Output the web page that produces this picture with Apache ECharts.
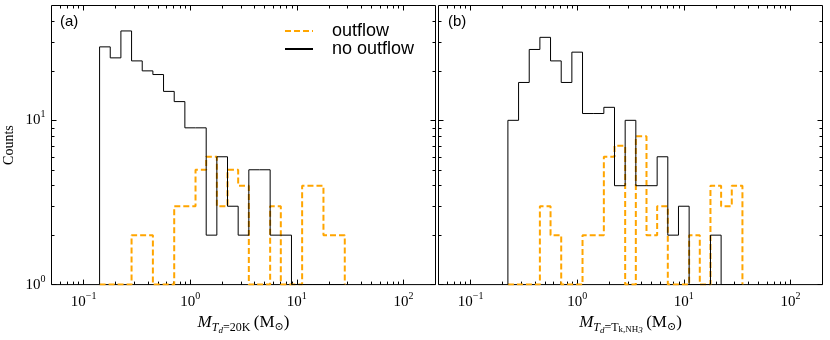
<!DOCTYPE html>
<html>
<head>
<meta charset="utf-8">
<script src="https://cdn.jsdelivr.net/npm/echarts@6/dist/echarts.min.js"></script>
<style>
html, body { margin: 0; padding: 0; background: #fff; }
#chart { width: 830px; height: 340px; }
</style>
</head>
<body>
<div id="chart"></div>
<script>
// bin edges are log10(M / Msun)
var edgesA = [-0.85, -0.75, -0.65, -0.55, -0.45, -0.35, -0.25, -0.15, -0.05, 0.05, 0.15, 0.25,
  0.35, 0.45, 0.55, 0.65, 0.75, 0.85, 0.95, 1.05, 1.15, 1.25, 1.35, 1.45];
var outflowA = [0, 0, 0, 2, 2, 0, 0, 3, 3, 5, 6, 3, 5, 4, 0, 0, 3, 0, 0, 4, 4, 2, 2];
var noOutflowA = [28, 24, 35, 23, 20, 19, 15, 13, 9, 9, 2, 6, 3, 2, 5, 5, 2, 2, 0, 0, 0, 0, 0];

var edgesB = [-0.65, -0.55, -0.45, -0.35, -0.25, -0.15, -0.05, 0.05, 0.15, 0.25, 0.35, 0.45,
  0.55, 0.65, 0.75, 0.85, 0.95, 1.05, 1.15, 1.25, 1.35, 1.45, 1.55];
var outflowB = [0, 0, 0, 3, 2, 0, 0, 2, 2, 6, 7, 0, 8, 2, 3, 0, 0, 2, 0, 4, 3, 4];
var noOutflowB = [10, 17, 27, 32, 23, 17, 26, 11, 11, 12, 4, 10, 4, 4, 6, 2, 3, 0, 0, 2, 0, 0];

var xMajor = [0.1, 1, 10, 100];
var xMinor = [0.06, 0.07, 0.08, 0.09, 0.2, 0.3, 0.4, 0.5, 0.6, 0.7, 0.8, 0.9,
  2, 3, 4, 5, 6, 7, 8, 9, 20, 30, 40, 50, 60, 70, 80, 90];
var yMajor = [1, 10];
var yMinor = [2, 3, 4, 5, 6, 7, 8, 9, 20, 30, 40];

var X_MIN = 0.05, X_MAX = 200, Y_MIN = 1, Y_MAX = 50;
var serif = 'Liberation Serif';

// step outline of a histogram, empty bins drop to the bottom of the log axis
function steps(edges, counts) {
  var pts = [[Math.pow(10, edges[0]), Y_MIN]];
  for (var i = 0; i < counts.length; i++) {
    var c = counts[i] > 0 ? counts[i] : Y_MIN;
    pts.push([Math.pow(10, edges[i]), c]);
    pts.push([Math.pow(10, edges[i + 1]), c]);
  }
  pts.push([Math.pow(10, edges[edges.length - 1]), Y_MIN]);
  return pts;
}

function powLabel(v) {
  var e = Math.round(Math.log10(v));
  return '{b|10}{s|' + (e < 0 ? '\u2212' + (-e) : e) + '}';
}
var powRich = {
  b: { fontFamily: serif, fontSize: 15, color: '#000' },
  s: { fontFamily: serif, fontSize: 10, color: '#000', padding: [0, 0, 11, 0] }
};

function axis(dim, grid, pos, ticks, len, withLabels) {
  var isX = dim === 'x';
  return {
    type: 'log',
    logBase: 10,
    gridIndex: grid,
    position: pos,
    min: isX ? X_MIN : Y_MIN,
    max: isX ? X_MAX : Y_MAX,
    axisLine: { show: false },
    splitLine: { show: false },
    axisTick: {
      show: true, inside: true, length: len, customValues: ticks,
      lineStyle: { color: '#000', width: 1 }
    },
    axisLabel: {
      show: !!withLabels,
      customValues: ticks,
      margin: isX ? 7 : 6,
      formatter: powLabel,
      rich: powRich
    }
  };
}

var xAxes = [], yAxes = [];
[0, 1].forEach(function (g) {
  xAxes.push(axis('x', g, 'bottom', xMajor, 5, true));
  xAxes.push(axis('x', g, 'bottom', xMinor, 3));
  xAxes.push(axis('x', g, 'top', xMajor, 5));
  xAxes.push(axis('x', g, 'top', xMinor, 3));
  yAxes.push(axis('y', g, 'left', yMajor, 5, g === 0));
  yAxes.push(axis('y', g, 'left', yMinor, 3));
  yAxes.push(axis('y', g, 'right', yMajor, 5));
  yAxes.push(axis('y', g, 'right', yMinor, 3));
});

var nameRich = {
  m: { fontFamily: serif, fontStyle: 'italic', fontSize: 17, color: '#000' },
  t: { fontFamily: serif, fontStyle: 'italic', fontSize: 12, color: '#000', padding: [9, 0, 0, 0] },
  d: { fontFamily: serif, fontStyle: 'italic', fontSize: 9, color: '#000', padding: [15, 0, 0, 0] },
  q: { fontFamily: serif, fontSize: 12, color: '#000', padding: [9, 0, 0, 0] },
  k: { fontFamily: serif, fontSize: 9, color: '#000', padding: [13, 0, 0, 0] },
  r: { fontFamily: serif, fontSize: 17, color: '#000' },
  o: { fontFamily: 'DejaVu Serif', fontSize: 11, color: '#000', padding: [9, 0, 0, 0] }
};
xAxes[0].name = '{m|M}{t|T}{d|d}{q|=20K} {r|(M}{o|\u2299}{r|)}';
xAxes[4].name = '{m|M}{t|T}{d|d}{q|=T}{k|k,NH}{d|3} {r|(M}{o|\u2299}{r|)}';
[0, 4].forEach(function (i) {
  xAxes[i].nameLocation = 'middle';
  xAxes[i].nameGap = 23;
  xAxes[i].nameTextStyle = { rich: nameRich };
});
yAxes[0].name = 'Counts';
yAxes[0].nameLocation = 'middle';
yAxes[0].nameGap = 35;
yAxes[0].nameTextStyle = { fontFamily: serif, fontSize: 14, color: '#000' };

function hist(name, grid, edges, counts) {
  var out = name === 'outflow';
  return {
    name: name,
    type: 'line',
    xAxisIndex: grid * 4,
    yAxisIndex: grid * 4,
    data: steps(edges, counts),
    symbol: 'none',
    showSymbol: false,
    clip: true,
    z: out ? 2 : 3,
    lineStyle: out
      ? { color: '#FFA500', width: 2, type: [6, 3] }
      : { color: '#000', width: 1 },
    itemStyle: { color: out ? '#FFA500' : '#000' }
  };
}

var chart = echarts.init(document.getElementById('chart'));
chart.setOption({
  animation: false,
  backgroundColor: '#fff',
  title: [
    { text: '(a)', left: 60, top: 14, padding: 0,
      textStyle: { fontFamily: 'Liberation Sans', fontSize: 15, fontWeight: 'normal', color: '#000' } },
    { text: '(b)', left: 448, top: 14, padding: 0,
      textStyle: { fontFamily: 'Liberation Sans', fontSize: 15, fontWeight: 'normal', color: '#000' } }
  ],
  legend: {
    data: ['outflow', 'no outflow'],
    orient: 'vertical',
    left: 284,
    top: 22,
    padding: 0,
    itemGap: 0,
    itemWidth: 28,
    itemHeight: 14,
    itemStyle: { opacity: 0 },
    textStyle: { fontFamily: 'Liberation Sans', fontSize: 18, color: '#000', lineHeight: 18, padding: [0, 0, 0, 14] }
  },
  grid: [
    { left: 51.5, top: 5.5, width: 384, height: 285, show: true, borderColor: '#000', borderWidth: 1, backgroundColor: 'transparent' },
    { left: 438.5, top: 5.5, width: 384, height: 285, show: true, borderColor: '#000', borderWidth: 1, backgroundColor: 'transparent' }
  ],
  xAxis: xAxes,
  yAxis: yAxes,
  series: [
    hist('outflow', 0, edgesA, outflowA),
    hist('no outflow', 0, edgesA, noOutflowA),
    hist('outflow', 1, edgesB, outflowB),
    hist('no outflow', 1, edgesB, noOutflowB)
  ]
});
</script>
</body>
</html>
